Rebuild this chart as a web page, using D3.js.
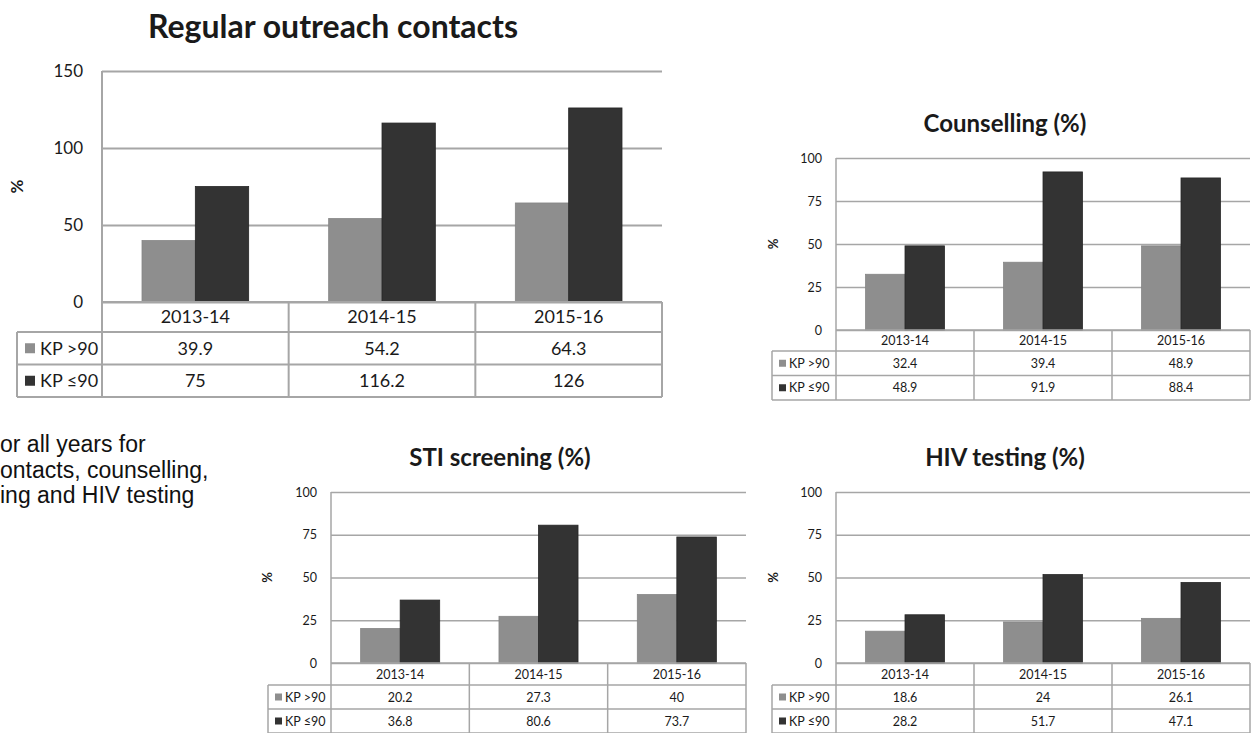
<!DOCTYPE html>
<html>
<head>
<meta charset="utf-8">
<script src="https://cdn.jsdelivr.net/npm/d3@7"></script>
<style>
  body { margin: 0; background: #fff; }
  svg { display: block; }
</style>
</head>
<body>
<svg id="chart" width="1256" height="733"></svg>
<script>
// data
const years = ["2013-14", "2014-15", "2015-16"];
const seriesNames = ["KP >90", "KP \u226490"];

const outreachAbove = [39.9, 54.2, 64.3];
const outreachBelow = [75, 116.2, 126];
const counsellingAbove = [32.4, 39.4, 48.9];
const counsellingBelow = [48.9, 91.9, 88.4];
const stiAbove = [20.2, 27.3, 40];
const stiBelow = [36.8, 80.6, 73.7];
const hivAbove = [18.6, 24, 26.1];
const hivBelow = [28.2, 51.7, 47.1];

const mainTicks = [0, 50, 100, 150];
const smallTicks = [0, 25, 50, 75, 100];

const noteLines = ["or all years for", "ontacts, counselling,", "ing and HIV testing"];

const barColors = ["#8e8e8e", "#333333"];
const lineColor = "#a6a6a6";
const textColor = "#1a1a1a";
const font = "Lato, 'Open Sans', sans-serif";

const svg = d3.select("#chart");

function drawChart(o) {
    const g = svg.append("g");

    const x0 = d3.scaleBand().domain(years).range([o.left, o.right]);
    const x1 = d3.scaleBand().domain(seriesNames)
                .range([0, x0.bandwidth()])
                .paddingOuter(0.75);
    const y = d3.scaleLinear()
                .domain([0, o.ticks[o.ticks.length - 1]])
                .range([o.zero, o.top]);

    // title
    g.append("text")
        .attr("x", o.titleX)
        .attr("y", o.titleY)
        .attr("text-anchor", "middle")
        .style("font-family", font)
        .style("font-weight", "bold")
        .style("font-size", o.titleSize + "px")
        .style("fill", textColor)
        .text(o.title);

    // gridlines + tick labels
    const ax = g.append("g")
        .attr("transform", "translate(" + o.left + ",0)")
        .call(d3.axisLeft(y).tickValues(o.ticks)
            .tickSize(-(o.right - o.left))
            .tickPadding(o.tickPad));
    ax.select(".domain").remove();
    ax.selectAll("line").attr("stroke", lineColor).attr("stroke-width", o.lw);
    ax.selectAll("text")
        .style("font-family", font)
        .style("font-size", o.tickSize + "px")
        .style("fill", textColor);

    // % label
    g.append("text")
        .attr("transform", "translate(" + o.pctX + "," + ((o.top + o.zero) / 2) + ") rotate(-90)")
        .attr("text-anchor", "middle")
        .attr("dy", "0.35em")
        .style("font-family", font)
        .style("font-weight", "bold")
        .style("font-size", o.pctSize + "px")
        .style("fill", textColor)
        .text("%");

    const series = seriesNames.map(function(s, i) {
        return { name: s, values: i === 0 ? o.above : o.below, color: barColors[i] };
    });

    // bars
    const groups = g.selectAll(".grp")
        .data(years)
        .enter().append("g")
        .attr("transform", function(d) { return "translate(" + x0(d) + ",0)"; });

    groups.selectAll("rect")
        .data(function(d, yi) {
            return series.map(function(s) { return { name: s.name, value: s.values[yi], color: s.color }; });
        })
        .enter().append("rect")
        .attr("x", function(d) { return x1(d.name); })
        .attr("width", x1.bandwidth())
        .attr("y", function(d) { return y(d.value); })
        .attr("height", function(d) { return o.zero - y(d.value); })
        .attr("fill", function(d) { return d.color; })
        .attr("stroke", function(d, i) { return i ? "#262626" : "#858585"; })
        .attr("stroke-width", 0.8);

    // data table
    const rowTop = o.zero + o.headerH;
    const bottom = rowTop + 2 * o.rowH;
    const t = g.append("g")
        .attr("stroke", lineColor)
        .attr("stroke-width", o.lw)
        .attr("fill", "none");

    t.append("line").attr("x1", o.left).attr("x2", o.left).attr("y1", o.top).attr("y2", bottom);
    t.append("line").attr("x1", o.tableLeft).attr("x2", o.tableLeft).attr("y1", rowTop).attr("y2", bottom);
    t.append("line").attr("x1", o.left).attr("x2", o.right).attr("y1", o.zero).attr("y2", o.zero);
    [0, 1, 2].forEach(function(i) {
        const yy = rowTop + i * o.rowH;
        t.append("line").attr("x1", o.tableLeft).attr("x2", o.right).attr("y1", yy).attr("y2", yy);
    });
    years.forEach(function(yr) {
        const xx = x0(yr) + x0.bandwidth();
        t.append("line").attr("x1", xx).attr("x2", xx).attr("y1", o.zero).attr("y2", bottom);
    });

    // header cells
    g.selectAll(".hdr")
        .data(years)
        .enter().append("text")
        .attr("x", function(d) { return x0(d) + x0.bandwidth() / 2; })
        .attr("y", o.zero + o.headerH / 2)
        .attr("dy", "0.36em")
        .attr("text-anchor", "middle")
        .style("font-family", font)
        .style("font-size", o.cellSize + "px")
        .style("fill", textColor)
        .text(function(d) { return d; });

    // value rows
    series.forEach(function(s, i) {
        const cy = rowTop + o.rowH * i + o.rowH / 2;
        g.append("rect")
            .attr("x", o.tableLeft + o.sqOff)
            .attr("y", cy - o.sq / 2)
            .attr("width", o.sq)
            .attr("height", o.sq)
            .attr("fill", s.color);
        g.append("text")
            .attr("x", o.tableLeft + o.textOff)
            .attr("y", cy)
            .attr("dy", "0.36em")
            .style("font-family", font)
            .style("font-size", o.cellSize + "px")
            .style("fill", textColor)
            .text(s.name);
        g.selectAll(".v" + i)
            .data(s.values)
            .enter().append("text")
            .attr("x", function(d, j) { return x0(years[j]) + x0.bandwidth() / 2; })
            .attr("y", cy)
            .attr("dy", "0.36em")
            .attr("text-anchor", "middle")
            .style("font-family", font)
            .style("font-size", o.cellSize + "px")
            .style("fill", textColor)
            .text(function(d) { return d; });
    });
}

const small = {
    ticks: smallTicks, titleSize: 24, tickSize: 12.5, tickPad: 14, cellSize: 12.5,
    pctSize: 13, lw: 1.5, headerH: 22, rowH: 24, sq: 7, sqOff: 7, textOff: 17
};

drawChart({
    title: "Regular outreach contacts", above: outreachAbove, below: outreachBelow,
    ticks: mainTicks, left: 102, right: 662, top: 71, zero: 302, tableLeft: 17,
    titleX: 333, titleY: 38, titleSize: 32, tickSize: 17, tickPad: 19, cellSize: 18,
    pctX: 17, pctSize: 17, lw: 2, headerH: 30, rowH: 32.5, sq: 10, sqOff: 8, textOff: 23
});

drawChart(Object.assign({}, small, {
    title: "Counselling (%)", above: counsellingAbove, below: counsellingBelow,
    left: 836, right: 1250, top: 158, zero: 330, tableLeft: 772,
    titleX: 1005, titleY: 132, pctX: 773, headerH: 21, rowH: 24.5
}));

drawChart(Object.assign({}, small, {
    title: "STI screening (%)", above: stiAbove, below: stiBelow,
    left: 331, right: 746, top: 492, zero: 663, tableLeft: 268,
    titleX: 500, titleY: 466, pctX: 267
}));

drawChart(Object.assign({}, small, {
    title: "HIV testing (%)", above: hivAbove, below: hivBelow,
    left: 836, right: 1250, top: 492, zero: 663, tableLeft: 772,
    titleX: 1005, titleY: 466, pctX: 773
}));

// note text on the left (its start is cut off in the source)
svg.append("g").selectAll("text")
    .data(noteLines)
    .enter().append("text")
    .attr("x", 0)
    .attr("y", function(d, i) { return 452 + i * 25.5; })
    .style("font-family", "'Liberation Sans', Arial, sans-serif")
    .style("font-size", "23px")
    .style("fill", "#111")
    .text(function(d) { return d; });
</script>
</body>
</html>
